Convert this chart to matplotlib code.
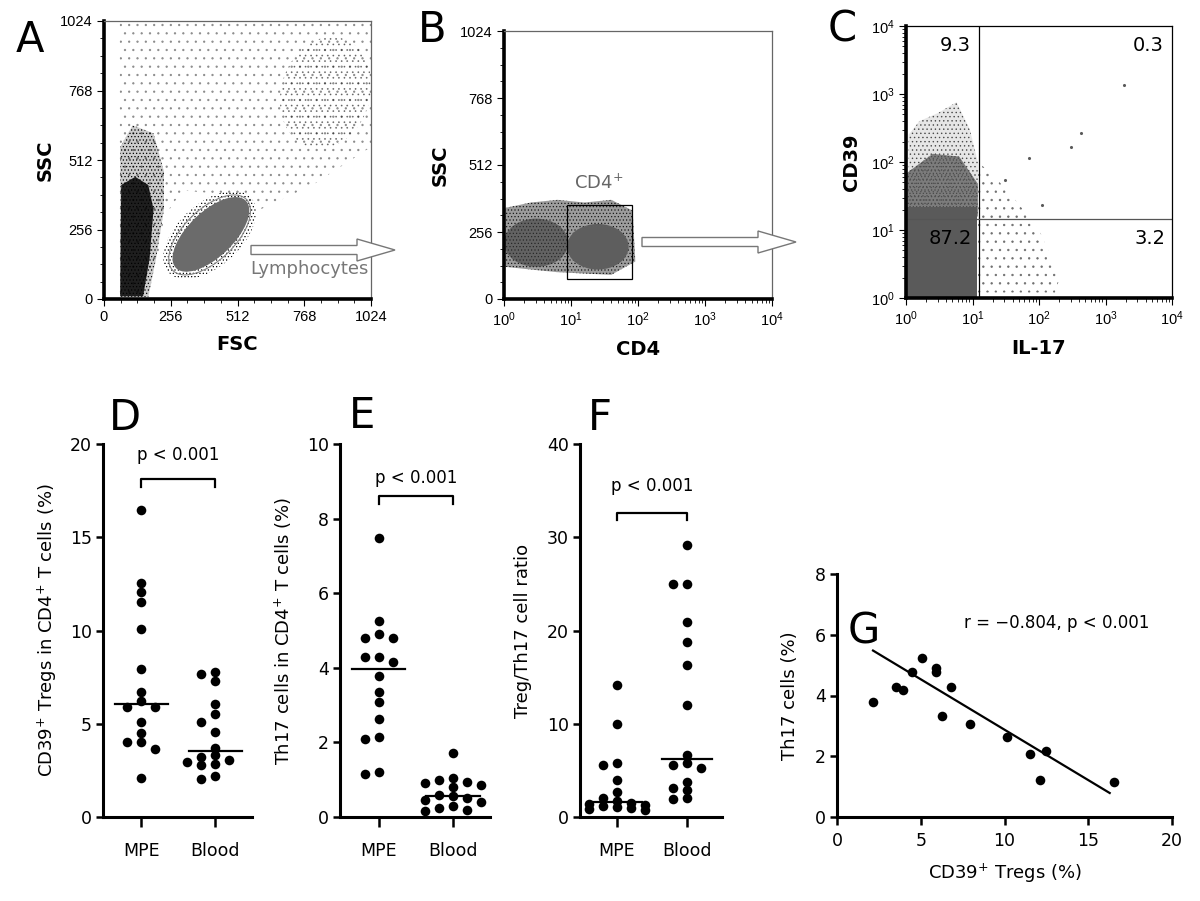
import numpy as np
import matplotlib
matplotlib.use('Agg')
import matplotlib.pyplot as plt
from matplotlib.patches import Ellipse, Polygon, Rectangle, FancyArrow
from matplotlib.ticker import MultipleLocator, LogLocator, NullFormatter

plt.rcParams['font.family'] = ['DejaVu Sans']
plt.rcParams['hatch.linewidth'] = 0.5

# ---- data ----
groups = ['MPE', 'Blood']

d_mpe = [16.46, 12.56, 12.06, 11.54, 10.1, 7.94, 6.71, 6.23, 5.9, 5.9, 5.1, 4.5, 4.02, 4.02, 3.67, 2.11]
d_blood = [7.75, 7.66, 7.3, 6.05, 5.5, 5.1, 4.56, 3.72, 3.31, 3.2, 3.04, 2.95, 2.86, 2.77, 2.18, 2.06]

e_mpe = [7.49, 5.26, 4.90, 4.79, 4.79, 4.29, 4.16, 4.29, 3.78, 3.34, 3.09, 2.62, 2.15, 2.08, 1.16, 1.21]
e_blood = [1.72, 1.05, 0.98, 0.95, 0.9, 0.85, 0.8, 0.6, 0.55, 0.5, 0.45, 0.4, 0.3, 0.25, 0.2, 0.15]

f_mpe = [14.13, 10.02, 5.8, 5.58, 3.97, 2.68, 2.0, 1.7, 1.45, 1.4, 1.3, 1.2, 1.1, 1.0, 0.9, 0.8]
f_blood = [29.16, 25.04, 25.04, 20.86, 18.78, 16.28, 11.99, 6.65, 5.8, 5.6, 5.25, 3.75, 3.1, 2.9, 2.05, 1.95]

g_tregs = [2.15, 3.54, 3.94, 4.48, 5.09, 5.89, 5.93, 6.29, 6.79, 7.96, 10.15, 11.5, 12.1, 12.5, 16.52]
g_th17 = [3.80, 4.28, 4.17, 4.76, 5.22, 4.89, 4.79, 3.33, 4.28, 3.07, 2.63, 2.08, 1.21, 2.16, 1.15]
# regression line as drawn in the figure (end points)
g_fit_x = [2.15, 16.28]
g_fit_y = [5.48, 0.79]

# panel C: quadrant percentages, cut-offs and the few isolated events
c_quad_labels = ['9.3', '0.3', '87.2', '3.2']
c_cut_x, c_cut_y = 12.7, 14.5
c_events_x = [1884, 427, 298, 71, 112, 31]
c_events_y = [1371, 270, 166, 116, 23.6, 54]

# panel B: CD4+ gate (x from, x to, y from, y to)
b_gate = [8.7, 81, 76, 359]

fig = plt.figure(figsize=(12, 9.01), dpi=100)


def px_axes(x0, y0, x1, y1):
    return fig.add_axes([x0 / 1200, 1 - y1 / 901, (x1 - x0) / 1200, (y1 - y0) / 901])


def swarm_x(ax, x0, values, step=14, gap=7.5):
    # prism-like column placement, done in pixel space
    vals = np.asarray(values, float)
    ypx = ax.transData.transform(np.column_stack([np.full(len(vals), x0), vals]))[:, 1]
    unit = ax.transData.transform([(1, 0)])[0, 0] - ax.transData.transform([(0, 0)])[0, 0]
    cols = np.zeros(len(vals))
    placed = []
    for i in np.argsort(-vals):
        best, best_d = 0, -1
        for c in (0, -1, 1, -2, 2):
            d = min([abs(ypx[i] - py) for pc, py in placed if pc == c], default=1e9)
            if d >= gap:
                best = c
                break
            if d > best_d:
                best, best_d = c, d
        placed.append((best, ypx[i]))
        cols[i] = best
    return x0 + cols * step / unit


def flow_style(ax):
    for s in ['left', 'bottom']:
        ax.spines[s].set_linewidth(2.6)
    for s in ['top', 'right']:
        ax.spines[s].set_linewidth(0.9)
        ax.spines[s].set_color('#666666')
    ax.tick_params(which='major', length=5, width=0.8, labelsize=10.5,
                   labelfontfamily='Liberation Sans', pad=3)
    ax.tick_params(which='minor', length=3, width=0.6)


def dot_style(ax):
    ax.spines['top'].set_visible(False)
    ax.spines['right'].set_visible(False)
    for s in ['left', 'bottom']:
        ax.spines[s].set_linewidth(2.2)
    ax.tick_params(axis='both', width=1.8, labelsize=12.5)
    ax.tick_params(axis='y', length=5, pad=3)
    ax.tick_params(axis='x', length=7, pad=11)


# ---------------- A ----------------
axA = px_axes(104, 21, 371, 299)
axA.set_xlim(0, 1024)
axA.set_ylim(0, 1024)
axA.xaxis.set_major_locator(MultipleLocator(256))
axA.yaxis.set_major_locator(MultipleLocator(256))
axA.xaxis.set_minor_locator(MultipleLocator(64))
axA.yaxis.set_minor_locator(MultipleLocator(64))
flow_style(axA)
# sparse events everywhere above the populations
axA.add_patch(Polygon([(60, 1024), (1024, 1024), (1024, 560), (800, 420), (600, 330), (520, 380),
                       (300, 400), (230, 300), (200, 120), (150, 20), (60, 20)],
                      fc='none', ec=(0, 0, 0, 0.35), lw=0, hatch='..'))
axA.add_patch(Ellipse((850, 760), 340, 420, angle=-20, fc='none', ec=(0.15, 0.15, 0.15, 0.55), lw=0, hatch='...'))
# debris band on the left
axA.add_patch(Polygon([(62, 8), (170, 8), (200, 150), (230, 330), (230, 470), (190, 610), (110, 640), (62, 560)],
                      fc=(0, 0, 0, 0.2), ec='black', lw=0, hatch='.....'))
axA.add_patch(Polygon([(62, 10), (150, 10), (175, 150), (190, 330), (170, 420), (120, 450), (66, 420)],
                      fc=(0, 0, 0, 0.85), lw=0))
# lymphocytes
axA.add_patch(Ellipse((405, 236), 420, 235, angle=40, fc='none', ec='black', lw=0, hatch='.....'))
axA.add_patch(Ellipse((410, 238), 365, 170, angle=42, fc='#6b6b6b', lw=0))
axA.add_patch(Ellipse((405, 236), 385, 192, angle=42, fill=False, ec='#888888', lw=0.8))
axA.text(560, 112, 'Lymphocytes', color='#777777', fontsize=13, va='center')
axA.set_xlabel('FSC', fontsize=14, fontweight='bold', labelpad=8)
axA.set_ylabel('SSC', fontsize=14, fontweight='bold', labelpad=4)

# ---------------- B ----------------
axB = px_axes(504, 31, 772, 299)
axB.set_xscale('log')
axB.set_xlim(1, 1e4)
axB.set_ylim(0, 1024)
axB.yaxis.set_major_locator(MultipleLocator(256))
axB.yaxis.set_minor_locator(MultipleLocator(64))
axB.xaxis.set_major_locator(LogLocator(base=10, numticks=10))
axB.xaxis.set_minor_locator(LogLocator(base=10, subs=np.arange(2, 10), numticks=10))
axB.xaxis.set_minor_formatter(NullFormatter())
flow_style(axB)
axB.add_patch(Polygon([(0.005, 0.12), (0.005, 0.34), (0.1, 0.36), (0.2, 0.37), (0.3, 0.36), (0.4, 0.37),
                       (0.48, 0.33), (0.49, 0.14), (0.4, 0.09), (0.2, 0.1), (0.1, 0.11)],
                      transform=axB.transAxes, fc=(0.3, 0.3, 0.3, 0.55), ec=(0, 0, 0, 0.8), lw=0, hatch='.....'))
axB.add_patch(Ellipse((0.12, 0.21), 0.24, 0.18, transform=axB.transAxes, fc=(0.2, 0.2, 0.2, 0.55), lw=0))
axB.add_patch(Ellipse((0.35, 0.195), 0.23, 0.17, transform=axB.transAxes, fc='#5e5e5e', lw=0))
axB.add_patch(Rectangle((b_gate[0], b_gate[2]), b_gate[1] - b_gate[0], b_gate[3] - b_gate[2],
                        fill=False, ec='black', lw=0.9))
axB.text(26, 443, 'CD4$^{+}$', color='#666666', fontsize=13, ha='center', va='center')
axB.set_xlabel('CD4', fontsize=14, fontweight='bold', labelpad=8)
axB.set_ylabel('SSC', fontsize=14, fontweight='bold', labelpad=8)

# ---------------- C ----------------
axC = px_axes(906, 26, 1172, 298)
axC.set_xscale('log')
axC.set_yscale('log')
axC.set_xlim(1, 1e4)
axC.set_ylim(1, 1e4)
for a in (axC.xaxis, axC.yaxis):
    a.set_major_locator(LogLocator(base=10, numticks=10))
    a.set_minor_locator(LogLocator(base=10, subs=np.arange(2, 10), numticks=10))
    a.set_minor_formatter(NullFormatter())
flow_style(axC)
axC.spines['top'].set_color('black')
axC.spines['right'].set_color('black')
axC.add_patch(Polygon([(0.01, 0.3), (0.01, 0.6), (0.05, 0.65), (0.12, 0.68), (0.19, 0.72), (0.24, 0.62),
                       (0.27, 0.5), (0.27, 0.3)], transform=axC.transAxes,
                      fc=(0.35, 0.35, 0.35, 0.15), ec='#4a4a4a', lw=0, hatch='....'))
axC.add_patch(Polygon([(0.27, 0.02), (0.27, 0.5), (0.33, 0.45), (0.42, 0.35), (0.5, 0.25), (0.58, 0.08),
                       (0.56, 0.02)], transform=axC.transAxes, fc='none', ec=(0.35, 0.35, 0.35, 0.8),
                      lw=0, hatch='..'))
axC.add_patch(Polygon([(0.004, 0.3), (0.27, 0.3), (0.27, 0.42), (0.2, 0.52), (0.1, 0.53), (0.004, 0.46)],
                      transform=axC.transAxes, fc=(0.35, 0.35, 0.35, 0.75), ec='#4a4a4a', lw=0, hatch='.....'))
axC.add_patch(Rectangle((0.004, 0.004), 0.262, 0.33, transform=axC.transAxes, fc='#5a5a5a', lw=0))
axC.scatter(c_events_x, c_events_y, s=5, c='#5a5a5a', lw=0)
axC.axvline(c_cut_x, color='black', lw=0.9)
axC.axhline(c_cut_y, color='#555555', lw=0.9)
for lab, (fx, fy) in zip(c_quad_labels, [(0.184, 0.93), (0.91, 0.93), (0.165, 0.217), (0.917, 0.217)]):
    axC.text(fx, fy, lab, transform=axC.transAxes, fontsize=14, ha='center', va='center')
axC.set_xlabel('IL-17', fontsize=14, fontweight='bold', labelpad=8)
axC.set_ylabel('CD39', fontsize=14, fontweight='bold', labelpad=7)


# ---------------- D, E, F ----------------
def dot_panel(box, mpe, blood, ymax, ystep, ylabel, br_y, br_drop, p_y, lpad):
    ax = px_axes(*box)
    ax.set_xlim(-0.52, 1.5)
    ax.set_ylim(0, ymax)
    ax.yaxis.set_major_locator(MultipleLocator(ystep))
    ax.set_xticks([0, 1])
    ax.set_xticklabels(groups)
    dot_style(ax)
    for i, vals in enumerate([mpe, blood]):
        xs = swarm_x(ax, i, vals)
        ax.scatter(xs, vals, s=48, c='black', lw=0, zorder=3, clip_on=False)
        med = np.median(vals)
        ax.plot([i - 0.36, i + 0.36], [med, med], color='black', lw=1.6, zorder=4)
    ax.plot([0, 0, 1, 1], [br_drop, br_y, br_y, br_drop], color='black', lw=1.6)
    ax.text(0.5, p_y, 'p < 0.001', ha='center', va='center', fontsize=12)
    ax.set_ylabel(ylabel, fontsize=13, labelpad=lpad)
    return ax


axD = dot_panel((103, 444, 252, 817), d_mpe, d_blood, 20, 5,
                'CD39$^{+}$ Tregs in CD4$^{+}$ T cells (%)', 18.1, 17.7, 19.4, 8)
axE = dot_panel((340, 444, 490, 817), e_mpe, e_blood, 10, 2,
                'Th17 cells in CD4$^{+}$ T cells (%)', 8.6, 8.4, 9.1, 9)
axF = dot_panel((580, 444, 722, 817), f_mpe, f_blood, 40, 10,
                'Treg/Th17 cell ratio', 32.6, 31.8, 35.5, 11)

# ---------------- G ----------------
axG = px_axes(837, 574, 1172, 817)
axG.set_xlim(0, 20)
axG.set_ylim(0, 8)
axG.xaxis.set_major_locator(MultipleLocator(5))
axG.yaxis.set_major_locator(MultipleLocator(2))
dot_style(axG)
axG.tick_params(axis='x', length=6, pad=5)
axG.scatter(g_tregs, g_th17, s=48, c='black', lw=0, zorder=3)
axG.plot(g_fit_x, g_fit_y, color='black', lw=1.6)
axG.text(13.1, 6.38, 'r = \u22120.804, p < 0.001', ha='center', va='center', fontsize=12)
axG.set_xlabel('CD39$^{+}$ Tregs (%)', fontsize=13, labelpad=8)
axG.set_ylabel('Th17 cells (%)', fontsize=13, labelpad=11)

# ---------------- overlay: panel letters and gate arrows ----------------
ov = fig.add_axes([0, 0, 1, 1], facecolor='none')
ov.set_xlim(0, 1200)
ov.set_ylim(901, 0)
ov.axis('off')
for lab, (x, y) in zip('ABCDEFG', [(30, 40), (432, 30), (842, 30), (125, 418), (362, 416),
                                   (600, 418), (864, 632)]):
    ov.text(x, y, lab, fontsize=30, ha='center', va='center')
for x0, x1, y in [(251, 395, 250), (642, 796, 242)]:
    ov.add_patch(FancyArrow(x0, y, x1 - x0, 0, width=9, head_width=22, head_length=38,
                            length_includes_head=True, fc='white', ec='#777777', lw=1))

fig.savefig('out.png', dpi=100)
